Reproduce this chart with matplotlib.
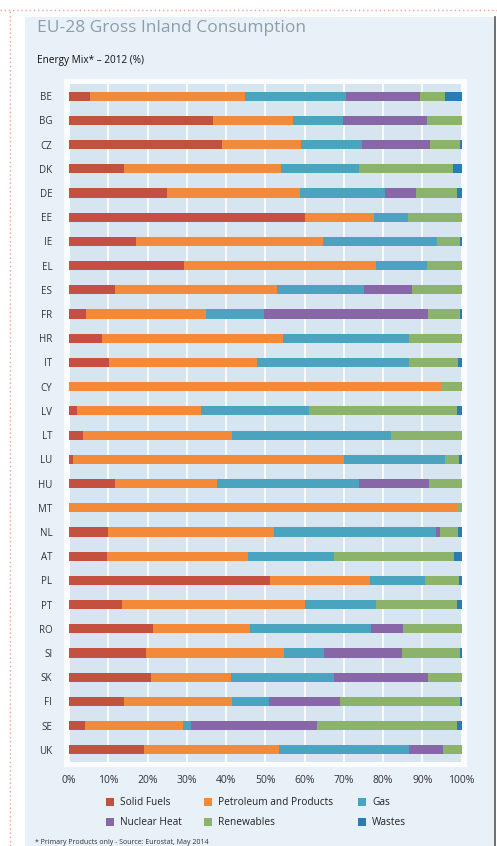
import matplotlib
matplotlib.use("Agg")
import matplotlib.pyplot as plt
from matplotlib.patches import Rectangle
from matplotlib.lines import Line2D
import numpy as np

countries = ["BE", "BG", "CZ", "DK", "DE", "EE", "IE", "EL", "ES", "FR", "HR", "IT", "CY", "LV",
             "LT", "LU", "HU", "MT", "NL", "AT", "PL", "PT", "RO", "SI", "SK", "FI", "SE", "UK"]
solid_fuels = [5.4, 36.6, 39.0, 13.9, 24.9, 60.0, 17.1, 29.3, 11.7, 4.3, 8.3, 10.2, 0.0, 2.0,
               3.5, 1.1, 11.6, 0.0, 10.0, 9.6, 51.3, 13.5, 21.3, 19.6, 20.8, 14.0, 4.1, 19.2]
petroleum = [39.5, 20.5, 20.1, 40.2, 33.9, 17.8, 47.6, 48.8, 41.4, 30.7, 46.1, 37.7, 94.8, 31.7,
             38.0, 68.9, 26.1, 99.1, 42.3, 36.1, 25.5, 46.7, 24.9, 35.2, 20.4, 27.5, 24.9, 34.2]
gas = [25.8, 12.6, 15.6, 19.7, 21.8, 8.6, 29.1, 13.0, 22.0, 14.8, 32.3, 38.7, 0.0, 27.4,
       40.6, 25.7, 36.3, 0.0, 41.2, 21.7, 13.8, 18.1, 30.8, 10.1, 26.2, 9.4, 2.1, 33.3]
nuclear = [18.8, 21.5, 17.4, 0.0, 7.9, 0.0, 0.0, 0.0, 12.3, 41.6, 0.0, 0.0, 0.0, 0.0,
           0.0, 0.0, 17.7, 0.0, 1.1, 0.0, 0.0, 0.0, 8.1, 20.0, 24.0, 18.2, 32.1, 8.6]
renewables = [6.2, 8.8, 7.5, 24.1, 10.4, 13.6, 5.9, 8.9, 12.6, 8.2, 13.3, 12.6, 5.2, 37.8,
              17.9, 3.6, 8.3, 0.9, 4.5, 30.6, 8.7, 20.6, 14.9, 14.7, 8.6, 30.5, 35.7, 4.7]
wastes = [4.3, 0.0, 0.4, 2.1, 1.1, 0.0, 0.3, 0.0, 0.0, 0.4, 0.0, 0.8, 0.0, 1.1,
          0.0, 0.7, 0.0, 0.0, 0.9, 2.0, 0.7, 1.1, 0.0, 0.4, 0.0, 0.4, 1.1, 0.0]
series_names = ["Solid Fuels", "Petroleum and Products", "Gas", "Nuclear Heat", "Renewables", "Wastes"]
tick_labels = ["0%", "10%", "20%", "30%", "40%", "50%", "60%", "70%", "80%", "90%", "100%"]

colors = ["#c4503f", "#f28a3a", "#4aa3bf", "#8767a6", "#8cb36b", "#2b7cb5"]

plt.rcParams['font.family'] = ['Open Sans', 'DejaVu Sans']

W, H = 497, 846
fig = plt.figure(figsize=(W / 100, H / 100), dpi=100)
fig.patch.set_facecolor("white")

def fx(px):
    return px / W

def fy(py):
    return 1 - py / H

# outer light-blue panel
fig.patches.append(Rectangle((fx(25), 0), fx(494) - fx(25), fy(17), transform=fig.transFigure,
                             facecolor="#e9f1f8", edgecolor="none", zorder=0))
# right dark edge
fig.add_artist(Line2D([fx(494.5), fx(494.5)], [0, fy(17)], color="#555555", lw=1.2))
# dotted guide lines
fig.add_artist(Line2D([0, 1], [fy(10), fy(10)], color="#f0a08a", lw=1.0, ls=(0, (1, 2))))
fig.add_artist(Line2D([fx(10), fx(10)], [0, fy(10)], color="#f0a08a", lw=1.0, ls=(0, (1, 2))))
# white frame around plot area
fig.patches.append(Rectangle((fx(64), fy(767)), fx(467) - fx(64), fy(79) - fy(767),
                             transform=fig.transFigure, facecolor="#fbfcfd", edgecolor="none", zorder=0.5))

ax = fig.add_axes([fx(69), fy(762), fx(461.5) - fx(69), fy(84) - fy(762)])
ax.set_zorder(2)
ax.set_facecolor("#d7e5f0")

y = np.arange(len(countries))
series = [solid_fuels, petroleum, gas, nuclear, renewables, wastes]
left = np.zeros(len(countries))
for vals, c, name in zip(series, colors, series_names):
    vals = np.array(vals)
    ax.barh(y, vals, left=left, height=0.38, color=c, label=name, zorder=3, linewidth=0)
    left += vals

ax.set_xlim(0, 100)
ax.set_ylim(len(countries) - 0.5, -0.5)
ax.set_xticks(np.arange(0, 101, 10))
ax.set_xticklabels(tick_labels, fontsize=7.5, color="#333333")
ax.set_yticks(y)
ax.set_yticklabels(countries, fontsize=7, color="#333333")
ax.tick_params(axis="both", length=0)
ax.tick_params(axis="x", pad=9)
ax.tick_params(axis="y", pad=12)
ax.grid(axis="x", color="white", lw=1.2, zorder=1)
ax.set_axisbelow(True)
for s in ax.spines.values():
    s.set_visible(False)

# title and subtitle
fig.text(fx(37), fy(28), "EU-28 Gross Inland Consumption", fontsize=12.5, color="#8d9dac",
         va="center", ha="left")
fig.text(fx(37), fy(60), "Energy Mix* – 2012 (%)", fontsize=7.2, color="#111111",
         va="center", ha="left")

# legend (row-wise, drawn manually)
leg_x = [110, 208, 362]
leg_y = [802, 822]
for i, (name, c) in enumerate(zip(series_names, colors)):
    row, col = divmod(i, 3)
    x0, y0 = leg_x[col], leg_y[row]
    fig.patches.append(Rectangle((fx(x0 - 4), fy(y0 + 4)), fx(8), 8 / H, transform=fig.transFigure,
                                 facecolor=c, edgecolor="none", zorder=3))
    fig.text(fx(x0 + 10), fy(y0), name, fontsize=7.3, color="#222222", va="center", ha="left")

fig.text(fx(35), fy(842), "* Primary Products only - Source: Eurostat, May 2014", fontsize=5,
         color="#333333", va="center", ha="left")

fig.savefig("out.png", dpi=100)
